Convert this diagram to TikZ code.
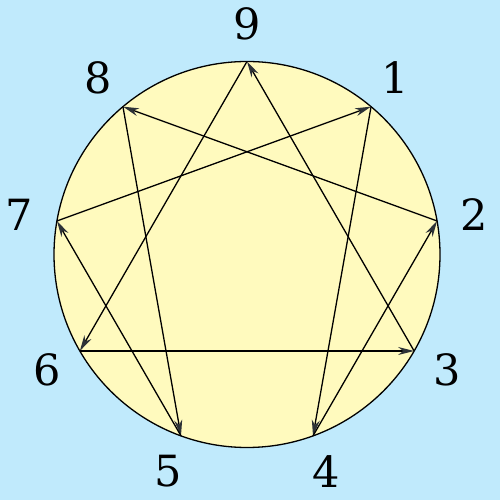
\documentclass[tikz,border=0pt]{standalone}
\usepackage{fontspec}
\setmainfont{DejaVu Serif}
\usetikzlibrary{arrows.meta,calc}
\definecolor{bgblue}{RGB}{192,234,252}
\definecolor{discyellow}{RGB}{255,250,190}
\definecolor{tipgray}{RGB}{45,50,55}
\begin{document}
\begin{tikzpicture}[x=1pt,y=1pt,
  edge/.style={line width=1.3pt, -{Stealth[length=16pt,width=8pt,inset=5pt,color=tipgray]}},
  numlabel/.style={font=\fontsize{43}{43}\selectfont, inner sep=0pt}]
\fill[bgblue] (0,0) rectangle (500,500);
\useasboundingbox (0,0) rectangle (500,500);
\coordinate (c) at (247,245.5);
\draw[line width=1.3pt, fill=discyellow] (c) circle[radius=193];
\foreach \n/\a in {9/90,1/50,2/10,3/-30,4/-70,5/-110,6/-150,7/170,8/130}{
  \coordinate (p\n) at ($(c)+(\a:193)$);
  \node[numlabel] (l\n) at ($(c)+(\a:231)$) {\n};
}
\draw[edge] (p1) -- (p4);
\draw[edge] (p4) -- (p2);
\draw[edge] (p2) -- (p8);
\draw[edge] (p8) -- (p5);
\draw[edge] (p5) -- (p7);
\draw[edge] (p7) -- (p1);
\draw[edge] (p9) -- (p6);
\draw[edge] (p6) -- (p3);
\draw[edge] (p3) -- (p9);
\end{tikzpicture}
\end{document}
